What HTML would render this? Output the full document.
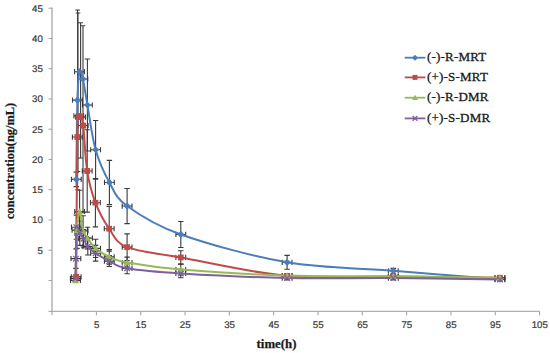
<!DOCTYPE html>
<html><head><meta charset="utf-8"><style>
html,body{margin:0;padding:0;background:#fff;}
body{width:550px;height:353px;overflow:hidden;font-family:"Liberation Sans",sans-serif;}
svg{display:block;}
</style></head><body>
<svg width="550" height="353" viewBox="0 0 550 353">
<rect width="550" height="353" fill="#fff"/>
<path d="M52.0,7.6 V312.0" stroke="#a0a0a0" stroke-width="1.2" fill="none"/>
<path d="M51.4,311.4 H539.8" stroke="#b0b0b0" stroke-width="1.2" fill="none"/>
<path d="M48.5,8.20 H52.0 M48.5,38.45 H52.0 M48.5,68.70 H52.0 M48.5,98.95 H52.0 M48.5,129.20 H52.0 M48.5,159.45 H52.0 M48.5,189.70 H52.0 M48.5,219.95 H52.0 M48.5,250.20 H52.0 M48.5,280.45 H52.0 M48.5,311.40 H52.0 M52.08,311.4 V315.4 M96.40,311.4 V315.4 M140.72,311.4 V315.4 M185.04,311.4 V315.4 M229.36,311.4 V315.4 M273.68,311.4 V315.4 M318.00,311.4 V315.4 M362.32,311.4 V315.4 M406.64,311.4 V315.4 M450.96,311.4 V315.4 M495.28,311.4 V315.4 M539.60,311.4 V315.4" stroke="#a0a0a0" stroke-width="1" fill="none"/>
<g font-family="Liberation Sans, sans-serif" font-size="9.7" text-rendering="geometricPrecision" fill="#3a3a3a" stroke="#3a3a3a" stroke-width="0.2"><text x="42.9" y="11.60" text-anchor="end">45</text><text x="42.9" y="41.85" text-anchor="end">40</text><text x="42.9" y="72.10" text-anchor="end">35</text><text x="42.9" y="102.35" text-anchor="end">30</text><text x="42.9" y="132.60" text-anchor="end">25</text><text x="42.9" y="162.85" text-anchor="end">20</text><text x="42.9" y="193.10" text-anchor="end">15</text><text x="42.9" y="223.35" text-anchor="end">10</text><text x="42.9" y="253.60" text-anchor="end">5</text><text x="96.60" y="327.8" text-anchor="middle">5</text><text x="140.92" y="327.8" text-anchor="middle">15</text><text x="185.24" y="327.8" text-anchor="middle">25</text><text x="229.56" y="327.8" text-anchor="middle">35</text><text x="273.88" y="327.8" text-anchor="middle">45</text><text x="318.20" y="327.8" text-anchor="middle">55</text><text x="362.52" y="327.8" text-anchor="middle">65</text><text x="406.84" y="327.8" text-anchor="middle">75</text><text x="451.16" y="327.8" text-anchor="middle">85</text><text x="495.48" y="327.8" text-anchor="middle">95</text><text x="539.80" y="327.8" text-anchor="middle">105</text></g>
<path d="M76.30,172.16 V186.67 M73.60,172.16 H79.00 M73.60,186.67 H79.00 M71.40,179.41 H81.20 M71.40,176.81 V182.01 M81.20,176.81 V182.01 M72.50,100.16 H82.30 M72.50,97.56 V102.76 M82.30,97.56 V102.76 M74.60,71.72 H84.40 M74.60,69.12 V74.32 M84.40,69.12 V74.32 M78.00,78.99 H87.80 M78.00,76.39 V81.59 M87.80,76.39 V81.59 M87.40,59.02 V150.98 M84.70,59.02 H90.10 M84.70,150.98 H90.10 M82.50,105.00 H92.30 M82.50,102.40 V107.60 M92.30,102.40 V107.60 M95.60,120.43 V179.11 M92.90,120.43 H98.30 M92.90,179.11 H98.30 M90.70,149.77 H100.50 M90.70,147.17 V152.37 M100.50,147.17 V152.37 M109.40,160.36 V204.52 M106.70,160.36 H112.10 M106.70,204.52 H112.10 M104.50,182.44 H114.30 M104.50,179.84 V185.04 M114.30,179.84 V185.04 M127.10,188.49 V223.58 M124.40,188.49 H129.80 M124.40,223.58 H129.80 M122.20,206.03 H132.00 M122.20,203.44 V208.63 M132.00,203.44 V208.63 M180.80,221.46 V247.48 M178.10,221.46 H183.50 M178.10,247.48 H183.50 M175.90,234.47 H185.70 M175.90,231.87 V237.07 M185.70,231.87 V237.07 M287.10,255.34 V269.26 M284.40,255.34 H289.80 M284.40,269.26 H289.80 M282.20,262.30 H292.00 M282.20,259.70 V264.90 M292.00,259.70 V264.90 M393.30,268.35 V273.19 M390.60,268.35 H396.00 M390.60,273.19 H396.00 M388.40,270.77 H398.20 M388.40,268.17 V273.37 M398.20,268.17 V273.37 M499.90,277.42 V281.06 M497.20,277.42 H502.60 M497.20,281.06 H502.60 M495.00,279.24 H504.80 M495.00,276.64 V281.84 M504.80,276.64 V281.84" stroke="#3a3a3a" stroke-width="1.1" fill="none"/>
<path d="M76.20,275.00 V278.63 M73.50,275.00 H78.90 M73.50,278.63 H78.90 M71.30,276.82 H81.10 M71.30,274.22 V279.42 M81.10,274.22 V279.42 M72.40,137.06 H82.20 M72.40,134.47 V139.66 M82.20,134.47 V139.66 M73.90,115.89 H83.70 M73.90,113.29 V118.49 M83.70,113.29 V118.49 M75.70,117.10 H85.50 M75.70,114.50 V119.70 M85.50,114.50 V119.70 M78.30,125.57 H88.10 M78.30,122.97 V128.17 M88.10,122.97 V128.17 M87.20,129.80 V212.09 M84.50,129.80 H89.90 M84.50,212.09 H89.90 M82.30,170.94 H92.10 M82.30,168.34 V173.54 M92.10,168.34 V173.54 M95.40,178.51 V226.91 M92.70,178.51 H98.10 M92.70,226.91 H98.10 M90.50,202.71 H100.30 M90.50,200.11 V205.31 M100.30,200.11 V205.31 M109.20,206.34 V251.11 M106.50,206.34 H111.90 M106.50,251.11 H111.90 M104.30,228.72 H114.10 M104.30,226.12 V231.32 M114.10,226.12 V231.32 M127.10,233.86 V260.49 M124.40,233.86 H129.80 M124.40,260.49 H129.80 M122.20,247.17 H132.00 M122.20,244.57 V249.77 M132.00,244.57 V249.77 M180.80,250.80 V264.11 M178.10,250.80 H183.50 M178.10,264.11 H183.50 M175.90,257.46 H185.70 M175.90,254.86 V260.06 M185.70,254.86 V260.06 M287.10,274.10 V277.73 M284.40,274.10 H289.80 M284.40,277.73 H289.80 M282.20,275.91 H292.00 M282.20,273.31 V278.51 M292.00,273.31 V278.51 M393.30,274.70 V278.33 M390.60,274.70 H396.00 M390.60,278.33 H396.00 M388.40,276.52 H398.20 M388.40,273.92 V279.12 M398.20,273.92 V279.12 M499.90,276.52 V278.94 M497.20,276.52 H502.60 M497.20,278.94 H502.60 M495.00,277.73 H504.80 M495.00,275.13 V280.33 M504.80,275.13 V280.33" stroke="#3a3a3a" stroke-width="1.1" fill="none"/>
<path d="M75.50,278.63 V282.26 M72.80,278.63 H78.20 M72.80,282.26 H78.20 M70.60,280.45 H80.40 M70.60,277.85 V283.05 M80.40,277.85 V283.05 M77.00,212.09 V248.38 M74.30,212.09 H79.70 M74.30,248.38 H79.70 M72.10,230.23 H81.90 M72.10,227.63 V232.83 M81.90,227.63 V232.83 M79.60,190.30 V232.66 M76.90,190.30 H82.30 M76.90,232.66 H82.30 M74.70,211.48 H84.50 M74.70,208.88 V214.08 M84.50,208.88 V214.08 M83.10,215.71 V245.96 M80.40,215.71 H85.80 M80.40,245.96 H85.80 M78.20,230.84 H88.00 M78.20,228.24 V233.44 M88.00,228.24 V233.44 M87.50,227.21 V248.99 M84.80,227.21 H90.20 M84.80,248.99 H90.20 M82.60,238.10 H92.40 M82.60,235.50 V240.70 M92.40,235.50 V240.70 M95.60,239.31 V257.46 M92.90,239.31 H98.30 M92.90,257.46 H98.30 M90.70,248.38 H100.50 M90.70,245.78 V250.98 M100.50,245.78 V250.98 M109.30,249.59 V264.11 M106.60,249.59 H112.00 M106.60,264.11 H112.00 M104.40,256.86 H114.20 M104.40,254.26 V259.46 M114.20,254.26 V259.46 M127.10,257.16 V268.05 M124.40,257.16 H129.80 M124.40,268.05 H129.80 M122.20,262.60 H132.00 M122.20,260.00 V265.20 M132.00,260.00 V265.20 M180.80,264.11 V275.00 M178.10,264.11 H183.50 M178.10,275.00 H183.50 M175.90,269.56 H185.70 M175.90,266.96 V272.16 M185.70,266.96 V272.16 M287.10,273.79 V277.42 M284.40,273.79 H289.80 M284.40,277.42 H289.80 M282.20,275.61 H292.00 M282.20,273.01 V278.21 M292.00,273.01 V278.21 M393.30,274.40 V278.03 M390.60,274.40 H396.00 M390.60,278.03 H396.00 M388.40,276.21 H398.20 M388.40,273.61 V278.81 M398.20,273.61 V278.81 M499.90,276.52 V278.94 M497.20,276.52 H502.60 M497.20,278.94 H502.60 M495.00,277.73 H504.80 M495.00,275.13 V280.33 M504.80,275.13 V280.33" stroke="#3a3a3a" stroke-width="1.1" fill="none"/>
<path d="M75.30,276.82 V280.45 M72.60,276.82 H78.00 M72.60,280.45 H78.00 M70.40,278.63 H80.20 M70.40,276.03 V281.24 M80.20,276.03 V281.24 M75.90,248.99 V268.35 M73.20,248.99 H78.60 M73.20,268.35 H78.60 M71.00,258.67 H80.80 M71.00,256.07 V261.27 M80.80,256.07 V261.27 M76.40,215.11 V239.31 M73.70,215.11 H79.10 M73.70,239.31 H79.10 M71.50,227.21 H81.30 M71.50,224.61 V229.81 M81.30,224.61 V229.81 M79.80,221.16 V245.36 M77.10,221.16 H82.50 M77.10,245.36 H82.50 M74.90,233.26 H84.70 M74.90,230.66 V235.86 M84.70,230.66 V235.86 M83.60,229.63 V247.78 M80.90,229.63 H86.30 M80.90,247.78 H86.30 M78.70,238.70 H88.50 M78.70,236.10 V241.30 M88.50,236.10 V241.30 M87.80,238.10 V255.04 M85.10,238.10 H90.50 M85.10,255.04 H90.50 M82.90,246.57 H92.70 M82.90,243.97 V249.17 M92.70,243.97 V249.17 M95.60,245.36 V261.09 M92.90,245.36 H98.30 M92.90,261.09 H98.30 M90.70,253.22 H100.50 M90.70,250.62 V255.82 M100.50,250.62 V255.82 M109.30,255.64 V266.54 M106.60,255.64 H112.00 M106.60,266.54 H112.00 M104.40,261.09 H114.20 M104.40,258.49 V263.69 M114.20,258.49 V263.69 M127.10,262.91 V273.79 M124.40,262.91 H129.80 M124.40,273.79 H129.80 M122.20,268.35 H132.00 M122.20,265.75 V270.95 M132.00,265.75 V270.95 M180.80,269.26 V277.73 M178.10,269.26 H183.50 M178.10,277.73 H183.50 M175.90,273.49 H185.70 M175.90,270.89 V276.09 M185.70,270.89 V276.09 M287.10,276.21 V279.84 M284.40,276.21 H289.80 M284.40,279.84 H289.80 M282.20,278.03 H292.00 M282.20,275.43 V280.63 M292.00,275.43 V280.63 M393.30,276.21 V279.84 M390.60,276.21 H396.00 M390.60,279.84 H396.00 M388.40,278.03 H398.20 M388.40,275.43 V280.63 M398.20,275.43 V280.63 M499.90,278.33 V280.75 M497.20,278.33 H502.60 M497.20,280.75 H502.60 M495.00,279.54 H504.80 M495.00,276.94 V282.14 M504.80,276.94 V282.14" stroke="#3a3a3a" stroke-width="1.1" fill="none"/>
<path d="M77.60,10.01 V189.70 M75.30,10.01 H79.90 M75.30,189.70 H79.90 M78.00,13.04 V171.55 M75.70,13.04 H80.30 M75.70,171.55 H80.30 M80.60,22.72 V157.94 M78.30,22.72 H82.90 M78.30,157.94 H82.90 M83.00,25.74 V212.69 M80.70,25.74 H85.30 M80.70,212.69 H85.30" stroke="#3a3a3a" stroke-width="1.1" fill="none"/>
<path d="M76.30,179.41 C76.48,166.21 76.87,118.11 77.40,100.16 C77.93,82.21 78.58,75.25 79.50,71.72 C80.42,68.20 81.58,73.44 82.90,78.99 C84.22,84.53 85.28,93.20 87.40,105.00 C89.52,116.80 91.93,136.86 95.60,149.77 C99.27,162.68 104.15,173.06 109.40,182.44 C114.65,191.82 115.20,197.36 127.10,206.03 C139.00,214.71 154.13,225.09 180.80,234.47 C207.47,243.85 251.68,256.25 287.10,262.30 C322.52,268.35 357.83,267.95 393.30,270.77 C428.77,273.59 482.13,277.83 499.90,279.24" stroke="#4A7EBB" stroke-width="2.0" fill="none" stroke-linejoin="round"/>
<path d="M76.20,276.82 C76.38,253.53 76.87,163.89 77.30,137.06 C77.73,110.24 78.25,119.22 78.80,115.89 C79.35,112.56 79.87,115.49 80.60,117.10 C81.33,118.71 82.10,116.60 83.20,125.57 C84.30,134.54 85.17,158.09 87.20,170.94 C89.23,183.80 91.73,193.08 95.40,202.71 C99.07,212.34 103.92,221.31 109.20,228.72 C114.48,236.13 115.17,242.39 127.10,247.17 C139.03,251.96 154.13,252.67 180.80,257.46 C207.47,262.25 251.68,272.74 287.10,275.91 C322.52,279.09 357.83,276.21 393.30,276.52 C428.77,276.82 482.13,277.53 499.90,277.73" stroke="#BE4B48" stroke-width="2.0" fill="none" stroke-linejoin="round"/>
<path d="M75.50,280.45 C75.75,272.08 76.32,241.73 77.00,230.23 C77.68,218.74 78.58,211.38 79.60,211.48 C80.62,211.58 81.78,226.40 83.10,230.84 C84.42,235.28 85.42,235.18 87.50,238.10 C89.58,241.02 91.97,245.26 95.60,248.38 C99.23,251.51 104.05,254.49 109.30,256.86 C114.55,259.22 115.18,260.48 127.10,262.60 C139.02,264.72 154.13,267.39 180.80,269.56 C207.47,271.73 251.68,274.50 287.10,275.61 C322.52,276.72 357.83,275.86 393.30,276.21 C428.77,276.57 482.13,277.48 499.90,277.73" stroke="#98B954" stroke-width="2.0" fill="none" stroke-linejoin="round"/>
<path d="M75.30,278.63 C75.40,275.31 75.72,267.24 75.90,258.67 C76.08,250.10 75.75,231.44 76.40,227.21 C77.05,222.98 78.60,231.34 79.80,233.26 C81.00,235.18 82.27,236.49 83.60,238.70 C84.93,240.92 85.80,244.15 87.80,246.57 C89.80,248.99 92.02,250.81 95.60,253.22 C99.18,255.64 104.05,258.57 109.30,261.09 C114.55,263.61 115.18,266.28 127.10,268.35 C139.02,270.42 154.13,271.88 180.80,273.49 C207.47,275.11 251.68,277.27 287.10,278.03 C322.52,278.79 357.83,277.78 393.30,278.03 C428.77,278.28 482.13,279.29 499.90,279.54" stroke="#7D60A0" stroke-width="2.0" fill="none" stroke-linejoin="round"/>
<path d="M76.30,175.81 L79.90,179.41 L76.30,183.01 L72.70,179.41 Z" fill="#4A7EBB"/>
<path d="M77.40,96.56 L81.00,100.16 L77.40,103.76 L73.80,100.16 Z" fill="#4A7EBB"/>
<path d="M79.50,68.12 L83.10,71.72 L79.50,75.32 L75.90,71.72 Z" fill="#4A7EBB"/>
<path d="M82.90,75.39 L86.50,78.99 L82.90,82.59 L79.30,78.99 Z" fill="#4A7EBB"/>
<path d="M87.40,101.40 L91.00,105.00 L87.40,108.60 L83.80,105.00 Z" fill="#4A7EBB"/>
<path d="M95.60,146.17 L99.20,149.77 L95.60,153.37 L92.00,149.77 Z" fill="#4A7EBB"/>
<path d="M109.40,178.84 L113.00,182.44 L109.40,186.04 L105.80,182.44 Z" fill="#4A7EBB"/>
<path d="M127.10,202.44 L130.70,206.03 L127.10,209.63 L123.50,206.03 Z" fill="#4A7EBB"/>
<path d="M180.80,230.87 L184.40,234.47 L180.80,238.07 L177.20,234.47 Z" fill="#4A7EBB"/>
<path d="M287.10,258.70 L290.70,262.30 L287.10,265.90 L283.50,262.30 Z" fill="#4A7EBB"/>
<path d="M393.30,267.17 L396.90,270.77 L393.30,274.37 L389.70,270.77 Z" fill="#4A7EBB"/>
<path d="M499.90,275.64 L503.50,279.24 L499.90,282.84 L496.30,279.24 Z" fill="#4A7EBB"/>
<rect x="73.30" y="273.92" width="5.80" height="5.80" fill="#BE4B48"/>
<rect x="74.40" y="134.16" width="5.80" height="5.80" fill="#BE4B48"/>
<rect x="75.90" y="112.99" width="5.80" height="5.80" fill="#BE4B48"/>
<rect x="77.70" y="114.20" width="5.80" height="5.80" fill="#BE4B48"/>
<rect x="80.30" y="122.67" width="5.80" height="5.80" fill="#BE4B48"/>
<rect x="84.30" y="168.04" width="5.80" height="5.80" fill="#BE4B48"/>
<rect x="92.50" y="199.81" width="5.80" height="5.80" fill="#BE4B48"/>
<rect x="106.30" y="225.82" width="5.80" height="5.80" fill="#BE4B48"/>
<rect x="124.20" y="244.27" width="5.80" height="5.80" fill="#BE4B48"/>
<rect x="177.90" y="254.56" width="5.80" height="5.80" fill="#BE4B48"/>
<rect x="284.20" y="273.01" width="5.80" height="5.80" fill="#BE4B48"/>
<rect x="390.40" y="273.62" width="5.80" height="5.80" fill="#BE4B48"/>
<rect x="497.00" y="274.83" width="5.80" height="5.80" fill="#BE4B48"/>
<path d="M75.50,277.05 L78.90,283.17 L72.10,283.17 Z" fill="#98B954"/>
<path d="M77.00,226.83 L80.40,232.95 L73.60,232.95 Z" fill="#98B954"/>
<path d="M79.60,208.08 L83.00,214.20 L76.20,214.20 Z" fill="#98B954"/>
<path d="M83.10,227.44 L86.50,233.56 L79.70,233.56 Z" fill="#98B954"/>
<path d="M87.50,234.70 L90.90,240.82 L84.10,240.82 Z" fill="#98B954"/>
<path d="M95.60,244.98 L99.00,251.10 L92.20,251.10 Z" fill="#98B954"/>
<path d="M109.30,253.46 L112.70,259.58 L105.90,259.58 Z" fill="#98B954"/>
<path d="M127.10,259.20 L130.50,265.32 L123.70,265.32 Z" fill="#98B954"/>
<path d="M180.80,266.16 L184.20,272.28 L177.40,272.28 Z" fill="#98B954"/>
<path d="M287.10,272.21 L290.50,278.33 L283.70,278.33 Z" fill="#98B954"/>
<path d="M393.30,272.81 L396.70,278.94 L389.90,278.94 Z" fill="#98B954"/>
<path d="M499.90,274.33 L503.30,280.45 L496.50,280.45 Z" fill="#98B954"/>
<path d="M72.50,275.83 L78.10,281.44 M72.50,281.44 L78.10,275.83" stroke="#7D60A0" stroke-width="1.3" fill="none"/>
<path d="M73.10,255.87 L78.70,261.47 M73.10,261.47 L78.70,255.87" stroke="#7D60A0" stroke-width="1.3" fill="none"/>
<path d="M73.60,224.41 L79.20,230.01 M73.60,230.01 L79.20,224.41" stroke="#7D60A0" stroke-width="1.3" fill="none"/>
<path d="M77.00,230.46 L82.60,236.06 M77.00,236.06 L82.60,230.46" stroke="#7D60A0" stroke-width="1.3" fill="none"/>
<path d="M80.80,235.90 L86.40,241.50 M80.80,241.50 L86.40,235.90" stroke="#7D60A0" stroke-width="1.3" fill="none"/>
<path d="M85.00,243.77 L90.60,249.37 M85.00,249.37 L90.60,243.77" stroke="#7D60A0" stroke-width="1.3" fill="none"/>
<path d="M92.80,250.42 L98.40,256.02 M92.80,256.02 L98.40,250.42" stroke="#7D60A0" stroke-width="1.3" fill="none"/>
<path d="M106.50,258.29 L112.10,263.89 M106.50,263.89 L112.10,258.29" stroke="#7D60A0" stroke-width="1.3" fill="none"/>
<path d="M124.30,265.55 L129.90,271.15 M124.30,271.15 L129.90,265.55" stroke="#7D60A0" stroke-width="1.3" fill="none"/>
<path d="M178.00,270.69 L183.60,276.29 M178.00,276.29 L183.60,270.69" stroke="#7D60A0" stroke-width="1.3" fill="none"/>
<path d="M284.30,275.23 L289.90,280.83 M284.30,280.83 L289.90,275.23" stroke="#7D60A0" stroke-width="1.3" fill="none"/>
<path d="M390.50,275.23 L396.10,280.83 M390.50,280.83 L396.10,275.23" stroke="#7D60A0" stroke-width="1.3" fill="none"/>
<path d="M497.10,276.74 L502.70,282.34 M497.10,282.34 L502.70,276.74" stroke="#7D60A0" stroke-width="1.3" fill="none"/>
<text x="276.5" y="348" text-anchor="middle" font-family="Liberation Serif, serif" font-weight="bold" font-size="12.8" fill="#1a1a1a" stroke="#1a1a1a" stroke-width="0.25">time(h)</text>
<text transform="translate(14,161) rotate(-90)" text-anchor="middle" font-family="Liberation Serif, serif" font-weight="bold" font-size="12.4" fill="#1a1a1a" stroke="#1a1a1a" stroke-width="0.25">concentration(ng/mL)</text>
<path d="M404.7,57.7 H425.4" stroke="#4A7EBB" stroke-width="1.8"/>
<path d="M415.00,54.64 L418.06,57.70 L415.00,60.76 L411.94,57.70 Z" fill="#4A7EBB"/>
<text x="427" y="61.3" font-family="Liberation Serif, serif" font-size="13" letter-spacing="0.2" fill="#1a1a1a" stroke="#1a1a1a" stroke-width="0.3">(-)-R-MRT</text>
<path d="M404.7,77.4 H425.4" stroke="#BE4B48" stroke-width="1.8"/>
<rect x="412.54" y="74.94" width="4.93" height="4.93" fill="#BE4B48"/>
<text x="427" y="81.0" font-family="Liberation Serif, serif" font-size="13" letter-spacing="0.2" fill="#1a1a1a" stroke="#1a1a1a" stroke-width="0.3">(+)-S-MRT</text>
<path d="M404.7,97.7 H425.4" stroke="#98B954" stroke-width="1.8"/>
<path d="M415.00,94.81 L417.89,100.01 L412.11,100.01 Z" fill="#98B954"/>
<text x="427" y="101.3" font-family="Liberation Serif, serif" font-size="13" letter-spacing="0.2" fill="#1a1a1a" stroke="#1a1a1a" stroke-width="0.3">(-)-R-DMR</text>
<path d="M404.7,118.4 H425.4" stroke="#7D60A0" stroke-width="1.8"/>
<path d="M412.62,116.02 L417.38,120.78 M412.62,120.78 L417.38,116.02" stroke="#7D60A0" stroke-width="1.3" fill="none"/>
<text x="427" y="122.0" font-family="Liberation Serif, serif" font-size="13" letter-spacing="0.2" fill="#1a1a1a" stroke="#1a1a1a" stroke-width="0.3">(+)-S-DMR</text>
</svg>
</body></html>
